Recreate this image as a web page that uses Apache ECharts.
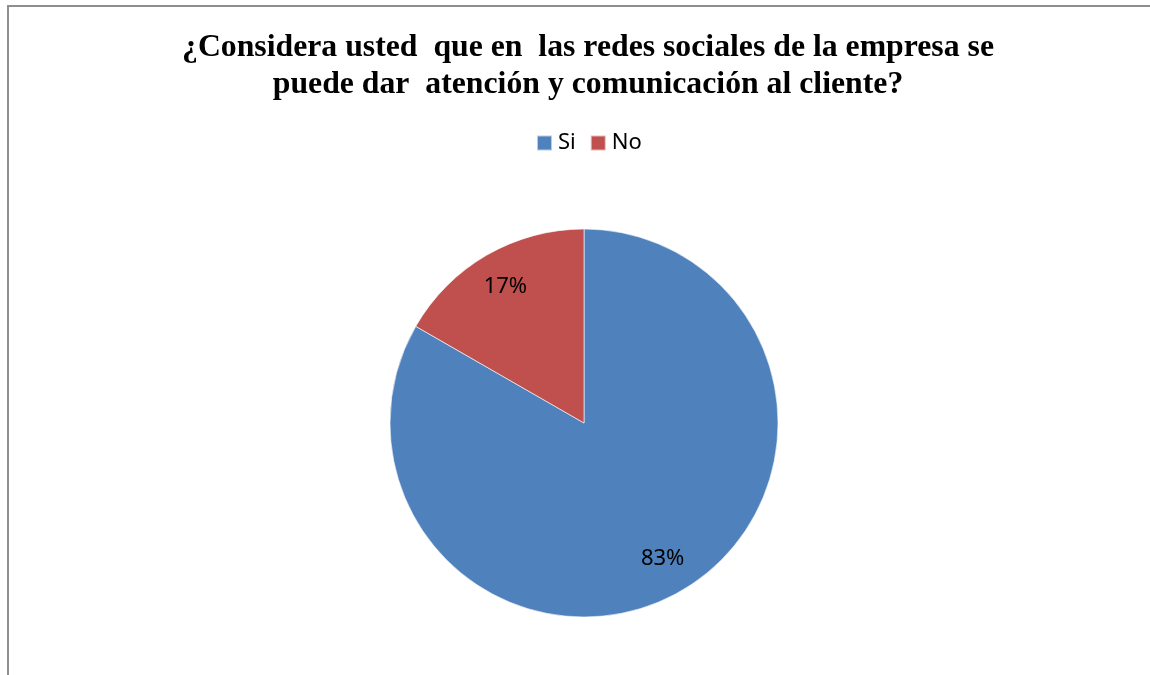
<!DOCTYPE html>
<html>
<head>
<meta charset="utf-8">
<script src="https://cdn.jsdelivr.net/npm/echarts@6/dist/echarts.min.js"></script>
<style>
  html, body { margin: 0; padding: 0; background: #fff; }
  #pie1 { width: 1150px; height: 675px; }
</style>
</head>
<body>
<div id="pie1"></div>
<script>
// datos
const categories = ['Si', 'No'];
const values = [83.3, 16.7];
const colors = ['#4F81BD', '#C0504D'];
const titleText = '¿Considera usted  que en  las redes sociales de la empresa se\npuede dar  atención y comunicación al cliente?';

const pieData = categories.map((name, i) => ({
  name: name,
  value: values[i],
  itemStyle: { color: colors[i] }
}));

const labelFont = { fontFamily: '"Noto Sans", sans-serif', fontSize: 22, color: '#000' };

let myChart = echarts.init(document.getElementById('pie1'), null, { renderer: 'canvas' });

let option = {
  backgroundColor: '#fff',
  animation: false,
  title: {
    text: titleText,
    left: 583,
    top: 24,
    textAlign: 'center',
    textStyle: {
      fontFamily: '"Liberation Serif", "Times New Roman", serif',
      fontWeight: 'bold',
      fontSize: 31.75,
      lineHeight: 37,
      color: '#000'
    }
  },
  legend: {
    left: 536,
    top: 132,
    padding: 0,
    icon: 'rect',
    itemWidth: 15,
    itemHeight: 15,
    itemGap: 14,
    data: categories,
    textStyle: Object.assign({ padding: [0, 0, 0, 1] }, labelFont),
    selectedMode: false
  },
  graphic: [{
    type: 'rect',
    shape: { x: 8, y: 6, width: 1200, height: 700 },
    style: { fill: 'none', stroke: '#8e8e8e', lineWidth: 2 },
    silent: true
  }],
  series: [
    {
      name: 'respuestas',
      type: 'pie',
      center: [584, 423],
      radius: [0, 194],
      startAngle: 90,
      clockwise: true,
      label: { show: false },
      labelLine: { show: false },
      itemStyle: { borderColor: 'rgba(255,255,255,0.6)', borderWidth: 1 },
      emphasis: { disabled: true },
      data: pieData
    },
    {
      // capa transparente solo para colocar las etiquetas
      name: 'etiquetas',
      type: 'pie',
      center: [584, 423],
      radius: [114, 194],
      startAngle: 90,
      clockwise: true,
      silent: true,
      emphasis: { disabled: true },
      itemStyle: { color: 'rgba(0,0,0,0)', borderWidth: 0 },
      label: Object.assign({
        show: true,
        position: 'inside',
        formatter: (p) => Math.round(p.percent) + '%'
      }, labelFont),
      labelLine: { show: false },
      data: categories.map((name, i) => ({ name: name, value: values[i] }))
    }
  ]
};

myChart.setOption(option);
</script>
</body>
</html>
